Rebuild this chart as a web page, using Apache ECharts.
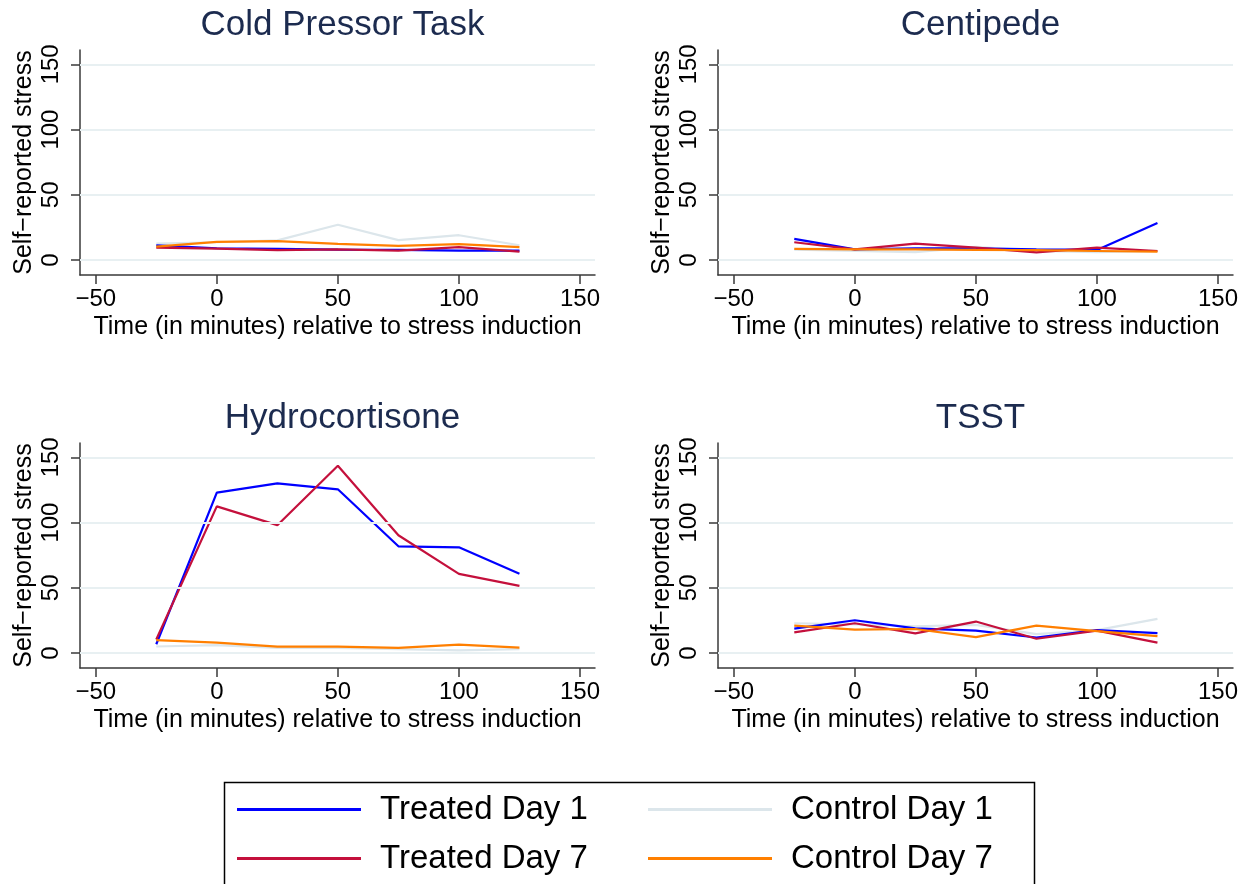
<!DOCTYPE html>
<html>
<head>
<meta charset="utf-8">
<title>Self-reported stress</title>
<script src="https://cdn.jsdelivr.net/npm/echarts@6/dist/echarts.min.js"></script>
<style>
html,body{margin:0;padding:0;background:#fff}
#main{width:1259px;height:884px}
</style>
</head>
<body>
<div id="main"></div>
<script>
// time points (minutes relative to stress induction)
const times = [-25, 0, 25, 50, 75, 100, 125]
const panelTitles = ['Cold Pressor Task', 'Centipede', 'Hydrocortisone', 'TSST']
const xTicks = [-50, 0, 50, 100, 150]
const yTicks = [0, 50, 100, 150]
const seriesNames = ['Control Day 1', 'Treated Day 1', 'Treated Day 7', 'Control Day 7']
const seriesColors = ['#dce6eb', '#0000ff', '#c4103c', '#ff7f00']

// Cold Pressor Task
const cptControl1 = [12.6, 13.6, 15, 27, 15.2, 19, 11.3]
const cptTreated1 = [11.3, 9, 8.5, 8, 7.7, 7.2, 7.2]
const cptTreated7 = [9.5, 8.7, 7.5, 8.2, 7.2, 9.8, 6.4]
const cptControl7 = [10.3, 13.9, 14.4, 12.3, 10.8, 12.1, 9.8]
// Centipede
const cenControl1 = [8, 7, 6, 10, 7, 6, 7]
const cenTreated1 = [16.2, 8.2, 9, 9, 8.2, 7.7, 28.3]
const cenTreated7 = [13.6, 8.2, 12.6, 9.5, 5.9, 9.5, 6.9]
const cenControl7 = [8.5, 8.2, 8.2, 7.7, 7.5, 6.9, 6.4]
// Hydrocortisone
const hydControl1 = [5, 6, 4, 4, 3, 2, 3]
const hydTreated1 = [6.7, 123, 130, 125.5, 81.8, 81, 60.7]
const hydTreated7 = [10.3, 112.4, 98, 143.6, 90.3, 60.7, 51.5]
const hydControl7 = [9.8, 8, 4.9, 4.9, 3.9, 6.4, 4.1]
// TSST
const tsstControl1 = [22.8, 22, 20.5, 21.5, 14.5, 17.6, 26.2]
const tsstTreated1 = [18.7, 25.1, 18.9, 17.1, 11.9, 17.6, 15.3]
const tsstTreated7 = [15.8, 22.8, 15, 24.1, 10.9, 17.1, 8]
const tsstControl7 = [21, 17.9, 18.4, 12.2, 21, 16.8, 13]

const panelData = [
  [cptControl1, cptTreated1, cptTreated7, cptControl7],
  [cenControl1, cenTreated1, cenTreated7, cenControl7],
  [hydControl1, hydTreated1, hydTreated7, hydControl7],
  [tsstControl1, tsstTreated1, tsstTreated7, tsstControl7]
]

const font = 'Liberation Sans, Arial, Helvetica, sans-serif'
const axisColor = '#3a3a3a'
const gridPos = [
  {left: 80, top: 50}, {left: 718, top: 50},
  {left: 80, top: 443}, {left: 718, top: 443}
]
const minus = v => String(v).replace('-', '\u2212')

const grids = [], xAxes = [], yAxes = [], titles = [], series = []
gridPos.forEach((p, i) => {
  grids.push({left: p.left, top: p.top, width: 515, height: 225})
  titles.push({
    text: panelTitles[i],
    left: p.left + 257.5, top: p.top - 47, textAlign: 'center',
    textStyle: {fontFamily: font, fontSize: 35, fontWeight: 'normal', color: '#1c2b4f'}
  })
  xAxes.push({
    type: 'value', gridIndex: i, min: -56.5, max: 156.2,
    name: 'Time (in minutes) relative to stress induction',
    nameLocation: 'middle', nameGap: 40,
    nameTextStyle: {fontFamily: font, fontSize: 25, color: '#000'},
    axisLine: {onZero: false, lineStyle: {color: axisColor, width: 1.5}},
    axisTick: {customValues: xTicks, length: 9, lineStyle: {color: axisColor, width: 1.5}},
    axisLabel: {customValues: xTicks, margin: 12, fontFamily: font, fontSize: 24, color: '#000', formatter: minus},
    splitLine: {show: false}
  })
  yAxes.push({
    type: 'value', gridIndex: i, min: -11.5, max: 161,
    name: 'Self\u2212reported stress',
    nameLocation: 'middle', nameGap: 43,
    nameTextStyle: {fontFamily: font, fontSize: 25, color: '#000'},
    axisLine: {onZero: false, lineStyle: {color: axisColor, width: 1.5}},
    axisTick: {customValues: yTicks, length: 9, lineStyle: {color: axisColor, width: 1.5}},
    axisLabel: {customValues: yTicks, rotate: 90, margin: 17, fontFamily: font, fontSize: 24, color: '#000'},
    splitLine: {show: false}
  })
  // horizontal gridlines
  series.push({
    type: 'line', xAxisIndex: i, yAxisIndex: i, data: [], silent: true, z: 1,
    markLine: {
      silent: true, symbol: ['none', 'none'], label: {show: false},
      lineStyle: {color: '#e8f0f2', width: 2, type: 'solid'},
      data: yTicks.map(v => ({yAxis: v}))
    }
  })
  seriesNames.forEach((name, s) => {
    series.push({
      name: name, type: 'line', xAxisIndex: i, yAxisIndex: i, z: 2 + s,
      symbol: 'none', color: seriesColors[s],
      lineStyle: {width: 2.2, color: seriesColors[s]},
      data: times.map((t, k) => [t, panelData[i][s][k]])
    })
  })
})

const legendBase = {
  orient: 'vertical', top: 793, padding: 0, itemWidth: 124, itemHeight: 3, itemGap: 16, icon: 'rect',
  textStyle: {fontFamily: font, fontSize: 33, color: '#000', lineHeight: 33, padding: [0, 0, 0, 14]}
}

const option = {
  animation: false,
  backgroundColor: '#fff',
  title: titles,
  grid: grids,
  xAxis: xAxes,
  yAxis: yAxes,
  legend: [
    Object.assign({}, legendBase, {left: 237, data: ['Treated Day 1', 'Treated Day 7']}),
    Object.assign({}, legendBase, {left: 648, data: ['Control Day 1', 'Control Day 7']})
  ],
  graphic: [{
    type: 'rect', left: 222, top: 780,
    shape: {width: 810, height: 130},
    style: {fill: 'none', stroke: '#000', lineWidth: 1.5}
  }],
  series: series
}

const chart = echarts.init(document.getElementById('main'))
chart.setOption(option)
</script>
</body>
</html>
